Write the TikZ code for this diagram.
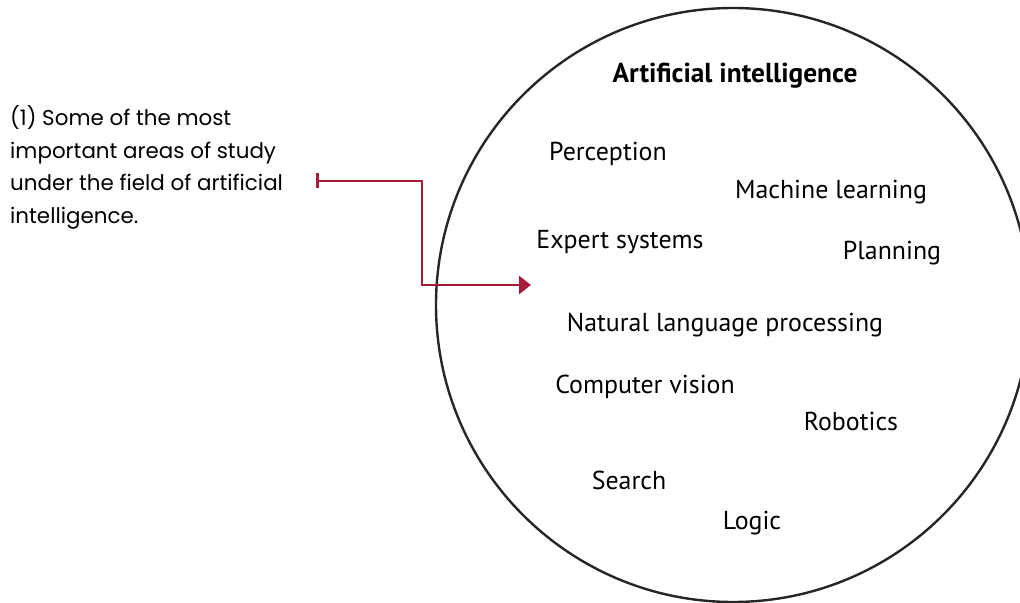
\documentclass[tikz,border=0pt]{standalone}
\usepackage{fontspec}
\setmainfont{PT Sans}
\newfontfamily\notefont{Poppins}
\usetikzlibrary{arrows.meta}
\usepackage{xcolor}
\definecolor{notered}{RGB}{166,26,58}

\begin{document}
\begin{tikzpicture}[x=1bp, y=-1bp]
		\tikzset{area/.style = {font=\fontsize{26}{30}\selectfont, inner sep=0pt}, title/.style = {font=\fontsize{27.5}{31}\selectfont\bfseries, inner sep=0pt}, note/.style = {font=\notefont\fontsize{21.5}{33}\selectfont, align=left, inner sep=0pt, anchor=north west}, pointer/.style = {draw=notered, line width=2.8bp, {Bar[width=15bp]}-{Triangle[length=12bp,width=18bp]}}}
		\useasboundingbox (0,0) rectangle (1020,603);
		\begin{scope}
		\clip (0,0) rectangle (1020,603);
		\draw[line width=2.4bp, black!85] (733,305) circle[radius=297];
		\end{scope}
		\node[title] (ai) at (735,76) {Artificial intelligence};
		\node[area] (perc) at (608,154) {Perception};
		\node[area] (ml) at (831,192) {Machine learning};
		\node[area] (expert) at (620,242) {Expert systems};
		\node[area] (plan) at (892,253) {Planning};
		\node[area] (nlp) at (725,325) {Natural language processing};
		\node[area] (cv) at (645,387) {Computer vision};
		\node[area] (robot) at (851,421) {Robotics};
		\node[area] (search) at (629,480) {Search};
		\node[area] (logic) at (752,523) {Logic};
		%note
		\node[note] (note) at (10,105) {(1) Some of the most\\important areas of study\\under the field of artificial\\intelligence.};
		\coordinate (start) at (316,181);
		\coordinate (tip) at (531,285);
		\draw[pointer] (start) -- ++(106,0) |- (tip);
\end{tikzpicture}
\end{document}
